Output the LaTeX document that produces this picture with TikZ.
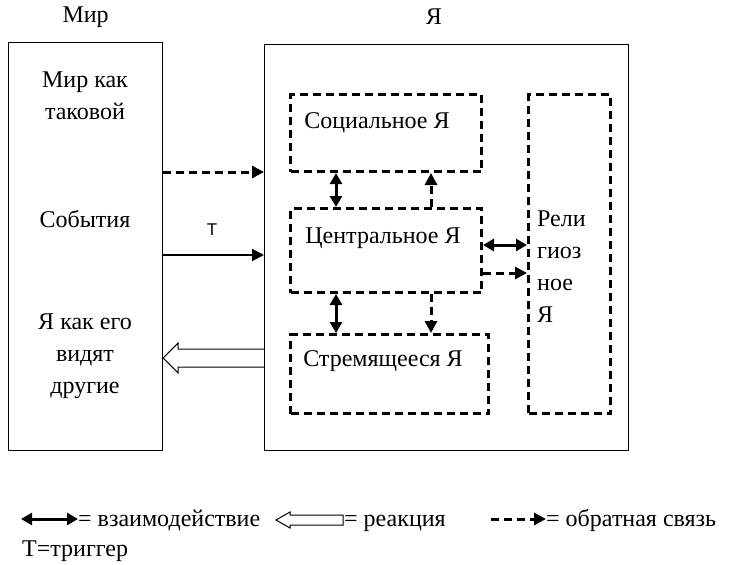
\documentclass[tikz,border=0pt]{standalone}
\usepackage{fontspec}
\setmainfont{Liberation Serif}
\newfontfamily\serifcyr{Liberation Serif}
\newfontfamily\labelfont{Liberation Sans}
\usetikzlibrary{arrows.meta,positioning,calc}

\begin{document}
\begin{tikzpicture}[
    x=1pt, y=-1pt,
    font=\serifcyr\fontsize{24}{32}\selectfont,
    bigbox/.style={rectangle, draw, line width=1.2pt, anchor=north west, inner sep=0pt},
    dashbox/.style={rectangle, draw, line width=3pt, dash pattern=on 8pt off 5pt, anchor=north west, inner sep=0pt},
    txt/.style={align=center, inner sep=0pt},
    keytxt/.style={anchor=base west, inner sep=0pt},
    arrow/.style={-{Triangle[length=12pt,width=12pt]}, line width=2pt},
    dasharrow/.style={-{Triangle[length=12pt,width=12pt]}, line width=3pt, dash pattern=on 8pt off 5pt},
    twoarrow/.style={{Triangle[length=11pt,width=12pt]}-{Triangle[length=11pt,width=12pt]}, line width=3pt},
    hollow/.style={draw, line width=1pt, line join=miter}
]
    \useasboundingbox (0,0) rectangle (729,565);

    % World and self
    \node[bigbox, minimum width=154, minimum height=408] (world) at (8,42) {};
    \node[bigbox, minimum width=364, minimum height=406] (self) at (264,44) {};
    \node (worldtitle) at ($(world.north)+(0,-25)$) {Мир};
    \node (selftitle) at (434,17) {Я};

    % World contents
    \node[txt] (asis) at (85,96) {Мир как\\таковой};
    \node[txt] (events) at (85,219) {События};
    \node[txt] (seen) at (85,356) {Я как его\\видят\\другие};

    % Parts of the self
    \node[dashbox, minimum width=191, minimum height=77] (social) at (289,93) {};
    \node[dashbox, minimum width=191, minimum height=84] (central) at (289,207) {};
    \node[dashbox, minimum width=198, minimum height=79] (striving) at (289,333) {};
    \node[dashbox, minimum width=82, minimum height=319] (relig) at (527,93) {};

    \node[txt] (socialtext) at (377,123) {Социальное Я};
    \node[txt] (centraltext) at (383,238) {Центральное Я};
    \node[txt] (strivingtext) at (383,361) {Стремящееся Я};
    \node[txt, align=left, anchor=west] (religtext) at (537,267) {Рели\\гиоз\\ное\\Я};

    % Arrows world -> self
    \draw[dasharrow] (world.east |- 0,172) -- (self.west |- 0,172);
    \draw[arrow] (world.east |- 0,255) -- (self.west |- 0,255);
    \node[font=\labelfont\fontsize{17}{18}\selectfont] (trigname) at (212,230) {Т};
    \draw[hollow] (self.west |- 0,349) -| ($(world.east |- 0,343)+(15,0)$)
        -- (world.east |- 0,358) -- ($(world.east |- 0,373)+(15,0)$) |- (self.west |- 0,367);

    % Arrows between the parts
    \coordinate (lft) at (336,0);
    \coordinate (rgt) at (431,0);
    \draw[twoarrow] (social.south -| lft) -- (central.north -| lft);
    \draw[dasharrow] (central.north -| rgt) -- (social.south -| rgt);
    \draw[twoarrow] (central.south -| lft) -- (striving.north -| lft);
    \draw[dasharrow] (central.south -| rgt) -- (striving.north -| rgt);
    \draw[twoarrow] (central.east |- 0,245) -- (relig.west |- 0,245);
    \draw[dasharrow] (central.east |- 0,273) -- (relig.west |- 0,273);

    % Legend
    \node[keytxt] (keyboth) at (78,526) {= взаимодействие};
    \node[keytxt] (keyreact) at (344,526) {= реакция};
    \node[keytxt] (keyback) at (546,526) {= обратная связь};
    \node[keytxt] (keytrig) at (22,556) {Т=триггер};
    \coordinate (bothstart) at (21,519);
    \coordinate (reacttip) at (276,520);
    \coordinate (backstart) at (491,519);
    \draw[twoarrow] (bothstart) -- (keyboth.west |- bothstart);
    \draw[hollow] (reacttip) -- ++(14,-8) -- ++(0,3) -- ++(53,0) -- ++(0,10) -- ++(-53,0) -- ++(0,3) -- cycle;
    \draw[dasharrow] (backstart) -- (keyback.west |- backstart);
\end{tikzpicture}
\end{document}
